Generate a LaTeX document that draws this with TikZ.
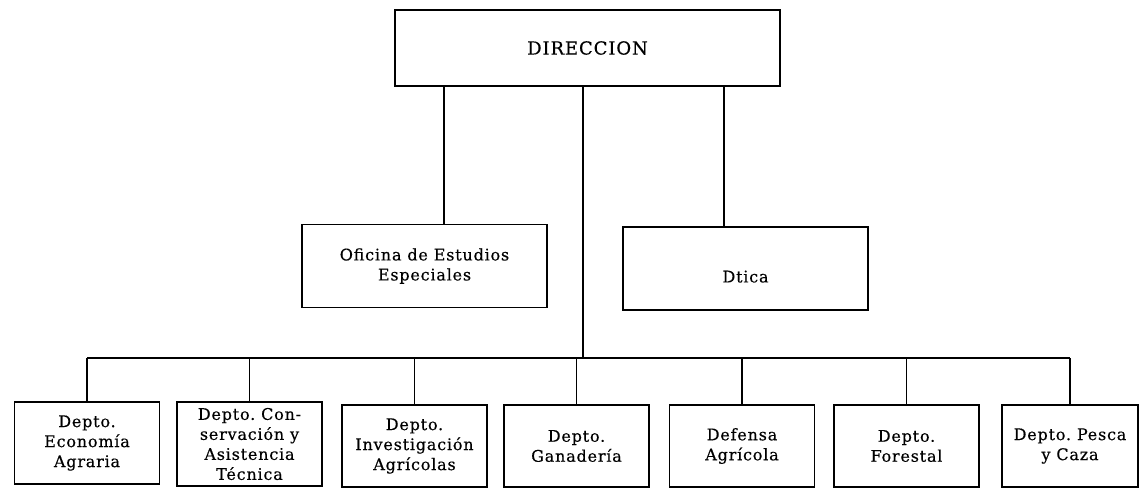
\documentclass[tikz,border=0pt]{standalone}
\usepackage{fontspec}
\setmainfont{DejaVu Serif}[LetterSpace=5, FakeBold=0.4]
\usetikzlibrary{positioning}

\tikzset{
  unit/.style={draw, line width=0.9pt, align=center, inner sep=0pt,
    font=\fontsize{8}{10}\selectfont},
  depto/.style={unit, minimum width=72.5pt, minimum height=41pt},
  staff/.style={unit, minimum width=122.5pt, minimum height=41.5pt},
  link/.style={line width=0.9pt}
}

\begin{document}
\begin{tikzpicture}[x=0.5pt, y=-0.5pt]
\useasboundingbox (0,0) rectangle (1140,489);

% direccion
\node[unit, minimum width=192.5pt, minimum height=38pt,
  font=\fontsize{9}{10}\selectfont] (dir) at (587.5,48) {DIRECCION};

% staff units
\node[staff] (ofi) at (424.5,266) {Oficina de Estudios\\Especiales};
\node[staff, text height=14pt] (dtica) at (745.5,268.5) {Dtica};

% departments
\node[depto] (d1) at (87,443) {Depto.\\Economía\\Agraria};
\node[depto, minimum height=42pt] (d2) at (249.5,444) {Depto.\ Con-\\servación y\\Asistencia\\Técnica};
\node[depto] (d3) at (414.5,446) {Depto.\\Investigación\\Agrícolas};
\node[depto] (d4) at (576.5,446) {Depto.\\Ganadería};
\node[depto] (d5) at (742,446) {Defensa\\Agrícola};
\node[depto] (d6) at (906.5,446) {Depto.\\Forestal};
\node[depto, minimum width=68pt] (d7) at (1070,446) {Depto.\ Pesca\\y Caza};

\coordinate (hub) at (583,358);
\coordinate (lft) at (444,0);
\coordinate (rgt) at (724,0);

% lines
\draw[link] (dir.south -| lft) -- (ofi.north -| lft);
\draw[link] (dir.south -| rgt) -- (dtica.north -| rgt);
\draw[link] (dir.south -| hub) -- (hub);
\draw[link] (d1.north |- hub) -- (d7.north |- hub);
\foreach \d in {d1,d2,d3,d4,d5,d6,d7}
  \draw[link] (\d.north |- hub) -- (\d.north);
\end{tikzpicture}
\end{document}
